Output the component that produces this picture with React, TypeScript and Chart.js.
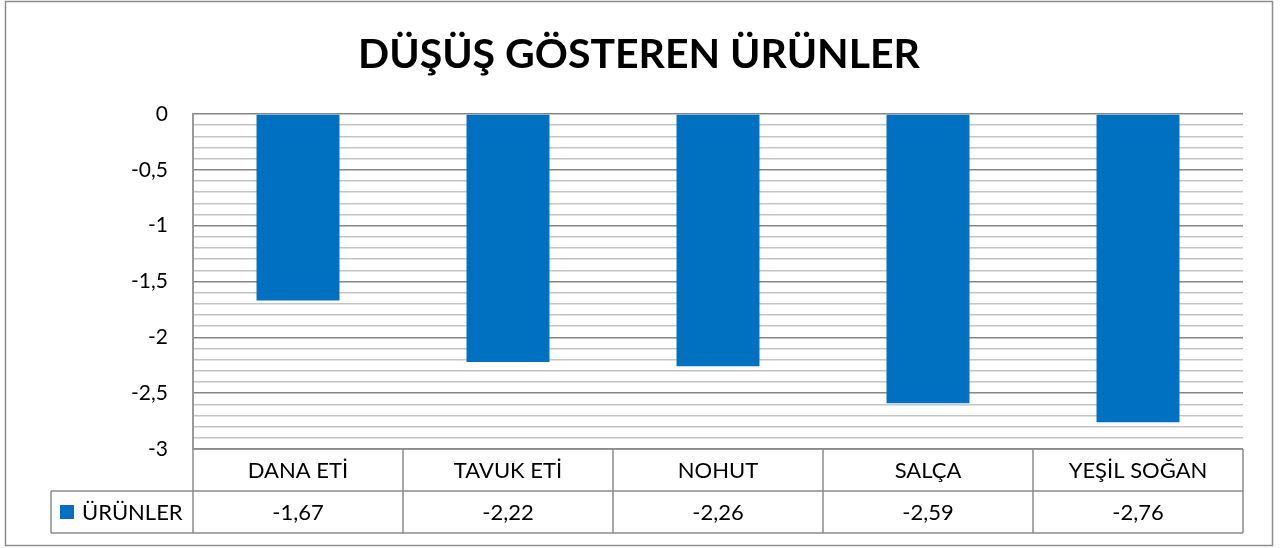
import React, { useEffect, useRef } from "react";
import { Chart, registerables } from "chart.js";

Chart.register(...registerables);

const chartTitle = "DÜŞÜŞ GÖSTEREN ÜRÜNLER";
const seriesName = "ÜRÜNLER";
const categories = ["DANA ETİ", "TAVUK ETİ", "NOHUT", "SALÇA", "YEŞİL SOĞAN"];
const values = [-1.67, -2.22, -2.26, -2.59, -2.76];
const yMin = -3;
const yMax = 0;
const yMinorStep = 0.1;
const yMajorStep = 0.5;

const FONT = "Lato, 'Open Sans', sans-serif";
const BAR_COLOR = "#0070C0";
const MAJOR_GRID = "#868686";
const MINOR_GRID = "#C4C4C4";
const TABLE_LINE = "#8C8C8C";

const fmt = (v: number, digits?: number) =>
  (digits !== undefined ? v.toFixed(digits) : String(v)).replace(".", ",");

const isMajor = (v: number) => {
  const r = v / yMajorStep;
  return Math.abs(r - Math.round(r)) < 1e-6;
};

const decorPlugin = {
  id: "decor",
  afterDraw(chart: any) {
    const { ctx, chartArea } = chart;
    const { left, right, bottom } = chartArea;
    ctx.save();

    // outer border
    ctx.strokeStyle = TABLE_LINE;
    ctx.lineWidth = 1.5;
    ctx.strokeRect(5.5, 1.5, 1267, 544);

    // title
    ctx.fillStyle = "#000";
    ctx.textAlign = "center";
    ctx.textBaseline = "alphabetic";
    ctx.font = `bold 40px ${FONT}`;
    const w = ctx.measureText(chartTitle).width;
    const size = Math.min(48, (40 * 562) / w);
    ctx.font = `bold ${size}px ${FONT}`;
    ctx.fillText(chartTitle, 639, 68);

    // data table
    const n = categories.length;
    const cw = (right - left) / n;
    const rowH = 42;
    const r1 = bottom;
    const r2 = bottom + rowH;
    const r3 = bottom + rowH * 2;
    const legendLeft = 51;

    ctx.strokeStyle = TABLE_LINE;
    ctx.lineWidth = 1.5;
    ctx.beginPath();
    ctx.moveTo(left, r1);
    ctx.lineTo(right, r1);
    ctx.moveTo(legendLeft, r2);
    ctx.lineTo(right, r2);
    ctx.moveTo(legendLeft, r3);
    ctx.lineTo(right, r3);
    for (let i = 0; i <= n; i++) {
      const x = left + i * cw;
      ctx.moveTo(x, r1);
      ctx.lineTo(x, r3);
    }
    ctx.moveTo(legendLeft, r2);
    ctx.lineTo(legendLeft, r3);
    ctx.stroke();

    ctx.fillStyle = "#000";
    ctx.font = `22px ${FONT}`;
    ctx.textAlign = "center";
    ctx.textBaseline = "middle";
    for (let i = 0; i < n; i++) {
      const cx = left + (i + 0.5) * cw;
      ctx.fillText(categories[i], cx, (r1 + r2) / 2 + 1);
      ctx.fillText(fmt(values[i], 2), cx, (r2 + r3) / 2 + 1);
    }

    // legend key
    ctx.fillStyle = BAR_COLOR;
    ctx.fillRect(60, 505, 14, 14);
    ctx.fillStyle = "#000";
    ctx.textAlign = "left";
    ctx.fillText(seriesName, 82, (r2 + r3) / 2 + 1);

    ctx.restore();
  },
};

export default function App() {
  const ref = useRef<HTMLCanvasElement>(null);

  useEffect(() => {
    if (!ref.current) return;
    const chart = new Chart(ref.current, {
      type: "bar",
      data: {
        labels: categories,
        datasets: [
          {
            label: seriesName,
            data: values,
            backgroundColor: BAR_COLOR,
            categoryPercentage: 1,
            barPercentage: 0.395,
          },
        ],
      },
      options: {
        responsive: false,
        animation: false,
        devicePixelRatio: 1,
        layout: { padding: { left: 0, top: 114, right: 45, bottom: 99 } },
        plugins: {
          legend: { display: false },
          title: { display: false },
          tooltip: { enabled: false },
        },
        scales: {
          x: { display: false },
          y: {
            min: yMin,
            max: yMax,
            afterFit(scale: any) {
              scale.width = 193;
            },
            border: { display: true, color: "#9A9A9A", width: 2 },
            grid: {
              drawTicks: false,
              lineWidth: 1.5,
              color: (c: any) => (isMajor(c.tick.value) ? MAJOR_GRID : MINOR_GRID),
            },
            ticks: {
              stepSize: yMinorStep,
              maxTicksLimit: 100,
              autoSkip: false,
              padding: 25,
              color: "#000",
              font: { family: FONT, size: 21 },
              callback: (v: any) => (isMajor(Number(v)) ? fmt(Math.round(Number(v) / yMajorStep) * yMajorStep) : ""),
            },
          },
        },
      },
      plugins: [decorPlugin],
    });
    return () => chart.destroy();
  }, []);

  return (
    <div style={{ position: "fixed", left: 0, top: 0, width: 1288, height: 548, background: "#fff" }}>
      <canvas ref={ref} width={1288} height={548} style={{ display: "block" }} />
    </div>
  );
}
